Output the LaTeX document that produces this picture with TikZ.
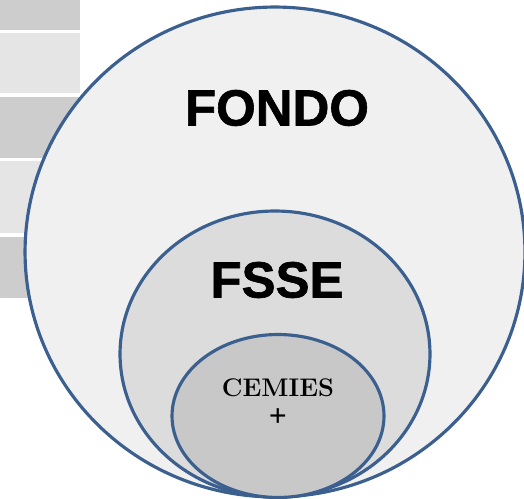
\documentclass[tikz,border=0pt]{standalone}
\usepackage{fontspec}
\usepackage{xcolor}
\usetikzlibrary{shapes.geometric}
\newfontfamily\headfont{Liberation Sans}[BoldFeatures={FakeBold=1.2}]
\newfontfamily\signfont{Liberation Serif}

\definecolor{ringblue}{HTML}{3B6090}
\definecolor{outerfill}{HTML}{F0F0F0}
\definecolor{midfill}{HTML}{DCDCDC}
\definecolor{innerfill}{HTML}{C8C8C8}
\definecolor{stripdark}{HTML}{CDCDCD}
\definecolor{striplight}{HTML}{E5E5E5}

\begin{document}
\begin{tikzpicture}[x=0.02cm, y=-0.02cm,
  ring/.style={draw=ringblue, line width=1.8pt, ellipse, inner sep=0pt},
  bigtitle/.style={font=\headfont\bfseries\fontsize{29}{33}\selectfont},
  smalltitle/.style={font=\bfseries\fontsize{14.5}{16}\selectfont}]

\useasboundingbox (0,0) rectangle (524,499);
\clip (0,0) rectangle (524,499);

% Strips on the left
\fill[stripdark]  (0,0)   rectangle (80,30);
\fill[striplight] (0,33)  rectangle (80,93);
\fill[stripdark]  (0,97)  rectangle (80,158);
\fill[striplight] (0,161) rectangle (80,233);
\fill[stripdark]  (0,237) rectangle (80,298);

% Outer ring
\node[ring, fill=outerfill, minimum width=10cm, minimum height=9.8cm] (fondo) at (275,252) {};

% Middle ring
\node[ring, fill=midfill, minimum width=6.2cm, minimum height=5.72cm] (fsse) at (275,354) {};

% Inner ring
\node[ring, fill=innerfill, minimum width=4.24cm, minimum height=3.26cm] (core) at (278,416) {};

% Labels
\node[bigtitle] (fondolabel) at (277,108) {FONDO};
\node[bigtitle] (fsselabel) at (277,280) {FSSE};
\node[smalltitle] (cemies) at (278,388) {CEMIES};
\node[smalltitle, font=\signfont\bfseries\fontsize{18}{20}\selectfont] (plus) at (278,418) {+};

\end{tikzpicture}
\end{document}
